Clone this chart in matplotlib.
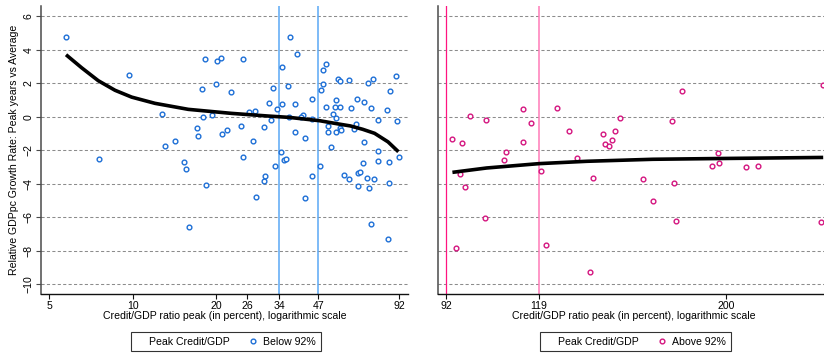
import matplotlib
matplotlib.use("Agg")
import matplotlib.pyplot as plt
from matplotlib.lines import Line2D
from matplotlib.ticker import FixedLocator, FixedFormatter, NullLocator

plt.rcParams['font.family'] = ['Liberation Sans', 'DejaVu Sans']

# ---------------- data ----------------
below_x = [5.74, 9.72, 7.57, 12.73, 13.09, 14.19, 17.09, 17.28, 17.86, 18.0, 18.22, 19.36, 20.02, 20.18,
           20.93, 21.02, 21.89, 22.69, 24.6, 25.07, 25.07, 26.36, 27.19, 27.78, 29.87, 31.22, 31.74, 32.1,
           33.37, 34.5, 34.7, 34.6, 37.0, 36.5, 36.9, 38.8, 38.8, 39.3, 41.3, 40.8, 42.0, 44.6, 44.7, 47.9,
           48.8, 48.9, 50.1, 50.1, 50.8, 50.8, 52.1, 53.1, 54.0, 54.4, 54.3, 54.4, 55.2, 56.3, 56.4, 56.3,
           56.7, 60.8, 61.7, 63.1, 64.3, 64.8, 68.7, 68.8, 70.9, 72.9, 73.9, 77.4, 77.5, 83.2, 85.4, 89.7,
           90.2, 92.0, 15.3, 15.55, 18.37, 15.99, 28.0, 30.0, 30.1, 32.65, 35.4, 35.9, 41.9, 44.4, 47.5,
           58.3, 60.7, 65.5, 66.3, 65.5, 68.3, 70.3, 71.5, 72.7, 74.5, 77.5, 84.4, 84.5, 83.7]
below_y = [4.74, 2.47, -2.54, 0.14, -1.73, -1.43, -0.67, -1.13, 1.65, -0.04, 3.43, 0.12, 1.95, 3.34,
           3.50, -1.05, -0.79, 1.47, -0.54, 3.43, -2.39, 0.28, -1.43, 0.34, -0.63, 0.82, -0.20, 1.70,
           0.46, -2.09, 2.95, 0.78, 4.78, 1.85, 0.0, 0.76, -0.93, 3.74, 0.10, -0.04, -1.29, 1.07, -0.12, 1.59,
           1.93, 2.79, 3.16, 0.56, -0.56, -0.91, -1.79, 0.14, 0.56, 0.98, -0.06, -0.91, 2.27, 2.15, 0.58, -0.69,
           -0.79, 2.19, 0.52, -0.75, -0.45, 1.04, -1.49, 0.90, 1.99, 0.50, 2.23, -0.18, -2.03, 0.40, 1.55, 2.41,
           -0.24, -2.41, -2.70, -3.14, -4.08, -6.59, -4.81, -3.86, -3.54, -2.96, -2.59, -2.54, -4.84, -3.56, -2.92,
           -3.48, -3.74, -3.38, -3.28, -4.16, -2.78, -3.64, -4.24, -6.43, -3.70, -2.63, -2.72, -3.96, -7.32]

above_x = [93.5, 96.1, 98.3, 102.7, 108.5, 108.1, 113.9, 114.0, 116.3, 125.2, 129.3, 132.2, 142.0, 142.8,
           144.5, 145.7, 146.8, 149.0, 172.2, 177.0, 195.4, 261.8, 95.7, 97.0, 94.5, 102.5, 119.7, 121.3,
           137.1, 138.4, 158.9, 163.1, 172.9, 173.9, 192.3, 195.9, 211.4, 218.6, 260.2]
above_y = [-1.33, -1.57, 0.04, -0.18, -2.13, -2.60, 0.44, -1.51, -0.36, 0.50, -0.84, -2.47, -1.05, -1.65,
           -1.73, -1.37, -0.85, -0.10, -0.27, 1.55, -2.15, 1.89, -3.42, -4.22, -7.86, -6.05, -3.22, -7.64,
           -9.27, -3.68, -3.74, -5.03, -3.98, -6.21, -2.94, -2.75, -3.00, -2.92, -6.27]

fit_below_x = [5.74, 6.54, 7.51, 8.63, 9.92, 12.04, 15.9, 22.8, 31.0, 36.9, 47.6, 55.0, 61.4, 68.0,
               75.1, 84.0, 91.6]
fit_below_y = [3.70, 2.92, 2.15, 1.58, 1.17, 0.80, 0.44, 0.20, 0.04, -0.04, -0.24, -0.42, -0.55, -0.75,
               -0.99, -1.50, -2.09]

fit_above_x = [93.6, 102.9, 119.0, 135.9, 163.2, 200.0, 261.8]
fit_above_y = [-3.32, -3.06, -2.80, -2.66, -2.54, -2.49, -2.43]

left_xticks = [5, 10, 20, 26, 34, 47, 92]
right_xticks = [92, 119, 200]
yticks = [-10, -8, -6, -4, -2, 0, 2, 4, 6]
left_vlines = [34, 47]
right_vlines = [92, 119]

xlabel = "Credit/GDP ratio peak (in percent), logarithmic scale"
ylabel = "Relative GDPpc Growth Rate: Peak years vs Average"

# ---------------- style ----------------
BLUE = '#1c6ed6'
PINK = '#d4147f'
FS = 7.6
MS = 3.4
MEW = 1.0

fig = plt.figure(figsize=(8.24, 3.56), dpi=100)
axL = fig.add_axes([0.0501, 0.1742, 0.4450, 0.8090])
axR = fig.add_axes([0.5319, 0.1742, 0.4754, 0.8090])

ylim = (-10.58, 6.61)

def style(ax, ticks, xlim, show_y):
    ax.set_xscale('log')
    ax.set_xlim(*xlim)
    ax.set_ylim(*ylim)
    ax.xaxis.set_major_locator(FixedLocator(ticks))
    ax.xaxis.set_major_formatter(FixedFormatter([str(t) for t in ticks]))
    ax.xaxis.set_minor_locator(NullLocator())
    ax.set_yticks(yticks)
    for yv in yticks:
        ax.axhline(yv, color='#8c8c8c', lw=0.75, ls=(0, (3.0, 2.2)), zorder=1)
    for s in ['top', 'right']:
        ax.spines[s].set_visible(False)
    ax.spines['left'].set_color('#4a4a4a')
    ax.spines['left'].set_linewidth(1.1)
    ax.spines['bottom'].set_color('#111111')
    ax.spines['bottom'].set_linewidth(1.0)
    ax.tick_params(axis='x', length=3.5, width=0.8, labelsize=FS, pad=1.2, color='#111111')
    if show_y:
        ax.tick_params(axis='y', length=3.5, width=0.8, labelsize=FS, pad=2, color='#4a4a4a')
        for lab in ax.get_yticklabels():
            lab.set_rotation(90)
            lab.set_va('center')
    else:
        ax.tick_params(axis='y', length=0, labelleft=False)
    ax.set_xlabel(xlabel, fontsize=FS, labelpad=0.5)

style(axL, left_xticks, (4.67, 99.2), True)
style(axR, right_xticks, (90.0, 266.8), False)
axL.set_ylabel(ylabel, fontsize=FS, labelpad=3)

for v in left_vlines:
    axL.axvline(v, color='#5aa8f5', lw=1.1, zorder=2)
axR.axvline(right_vlines[0], color='#ff1480', lw=0.9, zorder=2)
axR.axvline(right_vlines[1], color='#ff7ab8', lw=1.1, zorder=2)

axL.plot(below_x, below_y, ls='none', marker='o', ms=MS, mfc='white', mec=BLUE, mew=MEW, zorder=3)
axR.plot(above_x, above_y, ls='none', marker='o', ms=MS, mfc='white', mec=PINK, mew=MEW, zorder=3)

axL.plot(fit_below_x, fit_below_y, color='black', lw=2.6, solid_capstyle='butt',
         solid_joinstyle='round', zorder=4)
axR.plot(fit_above_x, fit_above_y, color='black', lw=2.6, solid_capstyle='butt',
         solid_joinstyle='round', zorder=4)

def add_legend(ax, color, label, cx):
    h0 = Line2D([], [], ls='none', marker=None)
    h1 = Line2D([], [], ls='none', marker='o', ms=MS, mfc='white', mec=color, mew=MEW)
    leg = ax.legend([h0, h1], ['Peak Credit/GDP', label], ncol=2, loc='center',
                    bbox_to_anchor=(cx, 0.0407), bbox_transform=fig.transFigure,
                    fontsize=FS, frameon=True, fancybox=False, edgecolor='black',
                    handlelength=0.5, handletextpad=0.7, columnspacing=2.0, borderpad=0.45)
    leg.get_frame().set_linewidth(0.8)

add_legend(axL, BLUE, 'Below 92%', 226 / 824)
add_legend(axR, PINK, 'Above 92%', 635.4 / 824)

fig.savefig('out.png', dpi=100)
